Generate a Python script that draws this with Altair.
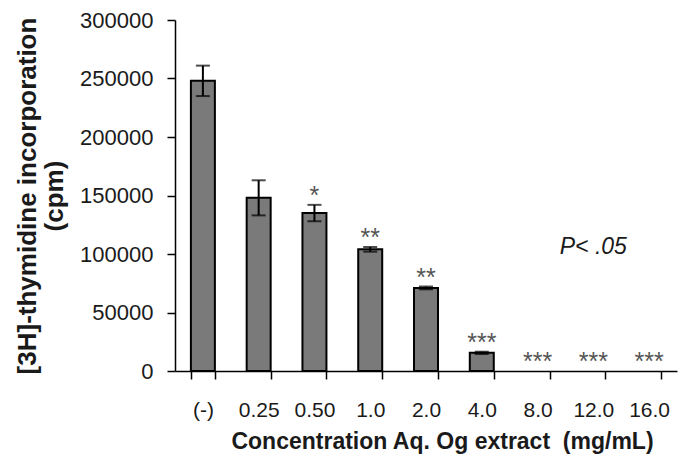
import altair as alt
import pandas as pd

categories = ["(-)", "0.25", "0.50", "1.0", "2.0", "4.0", "8.0", "12.0", "16.0"]
values = [248000, 148000, 135000, 104000, 71000, 15500, 0, 0, 0]
errors = [13000, 15000, 7000, 2000, 1200, 1000, 0, 0, 0]
stars = ["", "", "*", "**", "**", "***", "***", "***", "***"]

ann_text = ["P< .05"]
ann_cat = ["12.0"]
ann_val = [106000]

df = pd.DataFrame({"cat": categories, "value": values, "err": errors, "stars": stars})
ann = pd.DataFrame({"cat": ann_cat, "value": ann_val, "text": ann_text})

FONT = "Liberation Sans"
TXT = "#1a1a1a"

x_enc = alt.X(
    "cat:N",
    sort=categories,
    scale=alt.Scale(paddingInner=0.57, paddingOuter=0.285),
    axis=alt.Axis(
        title="Concentration Aq. Og extract\u00a0 (mg/mL)",
        labelAngle=0,
        tickBand="extent",
        labelFontSize=21,
        labelFont=FONT,
        labelColor=TXT,
        labelPadding=20,
        tickSize=8,
        tickColor="black",
        tickWidth=1.5,
        domainColor="black",
        domainWidth=1.5,
        titleFontSize=23,
        titleFont=FONT,
        titleFontWeight="bold",
        titleColor=TXT,
        titlePadding=10,
        titleX=267,
        grid=False,
    ),
)

y_scale = alt.Scale(domain=[0, 300000], nice=False)
y_axis = alt.Axis(
    title=["[3H]-thymidine incorporation", "(cpm)"],
    values=[0, 50000, 100000, 150000, 200000, 250000, 300000],
    format="d",
    labelFontSize=22,
    labelFont=FONT,
    labelColor=TXT,
    labelPadding=14,
    tickSize=8,
    tickColor="black",
    tickWidth=1.5,
    domainColor="black",
    domainWidth=1.5,
    titleFontSize=26,
    titleFont=FONT,
    titleFontWeight="bold",
    titleColor=TXT,
    titlePadding=12,
    titleLineHeight=27,
    grid=False,
)

base = alt.Chart(df)

bars = base.transform_filter("datum.value > 0").mark_bar(
    fill="#7a7a7a", stroke="black", strokeWidth=2
).encode(
    x=x_enc,
    y=alt.Y("value:Q", scale=y_scale, axis=y_axis),
)

err_base = base.transform_filter("datum.err > 0").transform_calculate(
    lo="datum.value - datum.err", hi="datum.value + datum.err"
)

rules = err_base.mark_rule(color="black", strokeWidth=2).encode(
    x=alt.X("cat:N", sort=categories),
    y="lo:Q",
    y2="hi:Q",
)
caps_hi = err_base.mark_tick(color="black", thickness=2, size=14).encode(
    x=alt.X("cat:N", sort=categories),
    y="hi:Q",
)
caps_lo = err_base.mark_tick(color="black", thickness=2, size=14).encode(
    x=alt.X("cat:N", sort=categories),
    y="lo:Q",
)

star_text = base.transform_calculate(top="datum.value + datum.err").mark_text(
    font=FONT, fontSize=25, color="#555555", baseline="alphabetic", dy=-1
).encode(
    x=alt.X("cat:N", sort=categories),
    y="top:Q",
    text="stars:N",
)

p_text = alt.Chart(ann).mark_text(
    font=FONT, fontSize=23, fontStyle="italic", color=TXT, baseline="middle"
).encode(
    x=alt.X("cat:N", sort=categories),
    y="value:Q",
    text="text:N",
)

chart = (
    alt.layer(bars, rules, caps_hi, caps_lo, star_text, p_text)
    .properties(
        width=502,
        height=351,
        autosize=alt.AutoSizeParams(type="none"),
        padding={"left": 175, "top": 20, "right": 6, "bottom": 90},
        background="white",
    )
    .configure_view(stroke=None)
)

chart.save("out.html", embed_options={"renderer": "svg", "actions": False})
